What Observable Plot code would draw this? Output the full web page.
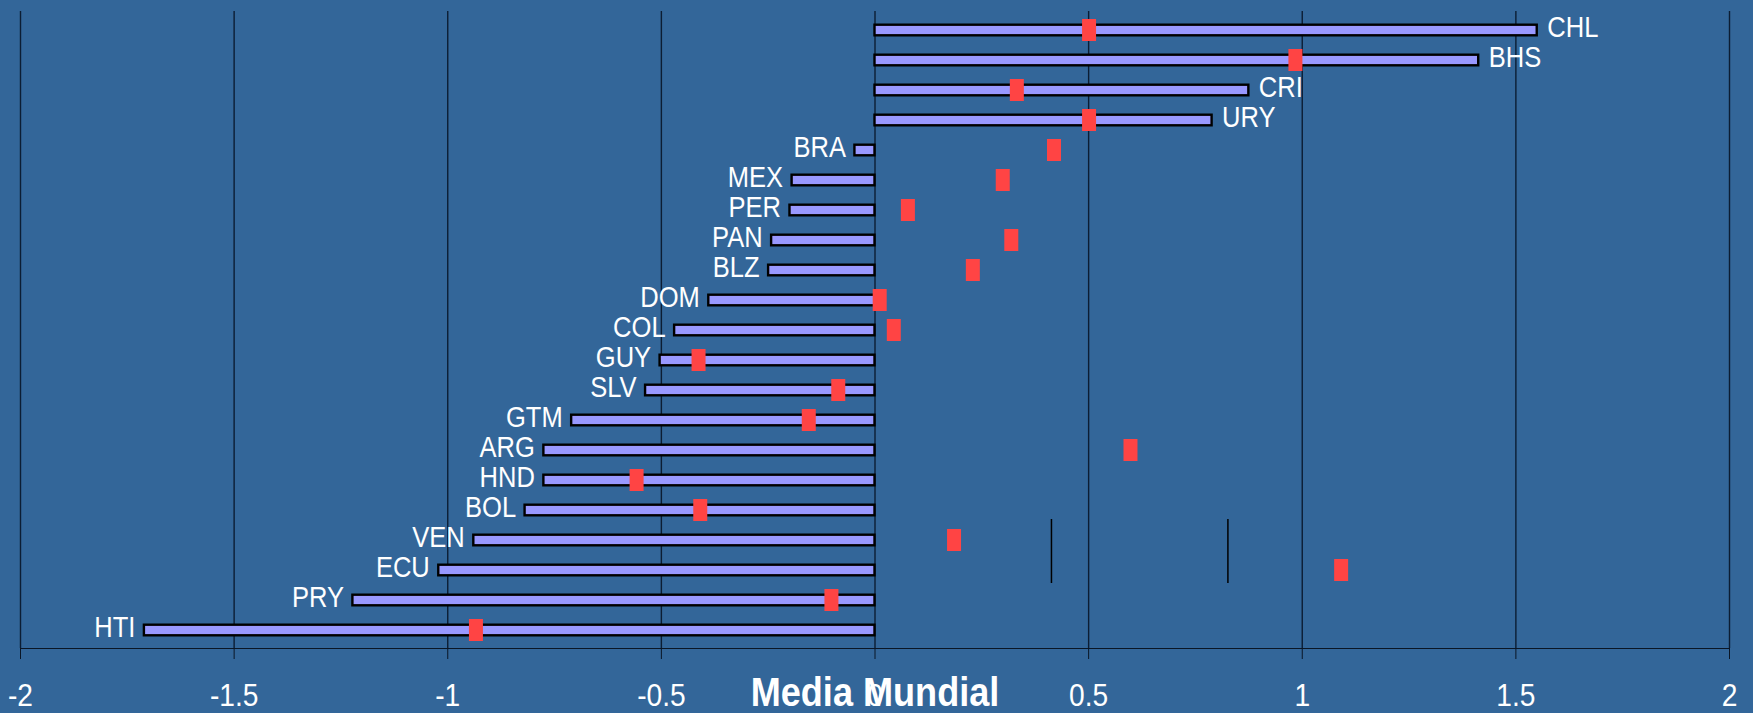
<!DOCTYPE html>
<html>
<head>
<meta charset="utf-8">
<script src="https://cdn.jsdelivr.net/npm/d3@7"></script>
<script src="https://cdn.jsdelivr.net/npm/@observablehq/plot@0.6"></script>
<style>
  html, body { margin: 0; padding: 0; background: #336699; }
  #chart svg { display: block; }
  #chart svg text { fill: white; }
</style>
</head>
<body>
<div id="chart"></div>
<script>
const countries = ["CHL","BHS","CRI","URY","BRA","MEX","PER","PAN","BLZ","DOM","COL","GUY","SLV","GTM","ARG","HND","BOL","VEN","ECU","PRY","HTI"];
const barValues = [1.550,1.413,0.875,0.789,-0.047,-0.194,-0.199,-0.242,-0.249,-0.389,-0.469,-0.503,-0.537,-0.710,-0.775,-0.775,-0.819,-0.939,-1.021,-1.222,-1.710];
const markerValues = [0.501,0.984,0.332,0.501,0.419,0.299,0.077,0.319,0.229,0.011,0.044,-0.413,-0.086,-0.155,0.598,-0.558,-0.409,0.185,1.091,-0.102,-0.934];
const refLines = [0.413, 0.826];
const refSpan = ["VEN", "ECU"];
const xTicks = [-2,-1.5,-1,-0.5,0,0.5,1,1.5,2];
const axisTitle = "Media Mundial";

const rows = countries.map((c, i) => ({country: c, value: barValues[i], marker: markerValues[i]}));
const refs = refLines.map(v => ({x: v, y1: refSpan[0], y2: refSpan[1]}));

const font = "'Liberation Sans', Arial, sans-serif";

const chart = Plot.plot({
  width: 1753,
  height: 713,
  marginLeft: 20,
  marginRight: 24,
  marginTop: 11,
  marginBottom: 65,
  style: {background: "#336699", color: "#0a1626", fontFamily: font, fontSize: "32px"},
  x: {domain: [-2, 2], ticks: xTicks, tickFormat: d => String(d), tickSize: 11, tickPadding: 24, line: true, label: null},
  y: {domain: countries, padding: 0, axis: null},
  marks: [
    Plot.ruleX(xTicks, {stroke: "#0c1d33", strokeWidth: 1.4}),
    Plot.barX(rows, {x1: 0, x2: "value", y: "country", fill: "#9999ff", stroke: "black", strokeWidth: 2.4, insetTop: 9.7, insetBottom: 9.7}),
    Plot.ruleX(refs, {x: "x", y1: "y1", y2: "y2", stroke: "black", strokeWidth: 1.5, insetTop: -6, insetBottom: 2}),
    Plot.tickX(rows, {x: "marker", y: "country", stroke: "#ff4444", strokeWidth: 14, insetTop: 4, insetBottom: 4}),
    Plot.text(rows.filter(d => d.value < 0), {
      x: "value", y: "country", text: "country", textAnchor: "end",
      dx: -9, dy: -3, fill: "white", fontSize: 29
    }),
    Plot.text(rows.filter(d => d.value >= 0), {
      x: "value", y: "country", text: "country", textAnchor: "start",
      dx: 10, dy: -3, fill: "white", fontSize: 29
    }),
    Plot.text([axisTitle], {x: 0, frameAnchor: "bottom", text: d => d, dy: 57, lineAnchor: "bottom", fill: "white", fontSize: 41, fontWeight: "bold"})
  ]
});

document.getElementById("chart").appendChild(chart);

// the reference typeface is horizontally condensed: narrow the glyphs of every text
d3.select(chart).selectAll("text").each(function() {
  const len = this.getComputedTextLength();
  if (len > 0) {
    this.setAttribute("textLength", (len * 0.88).toFixed(1));
    this.setAttribute("lengthAdjust", "spacingAndGlyphs");
  }
});
</script>
</body>
</html>
